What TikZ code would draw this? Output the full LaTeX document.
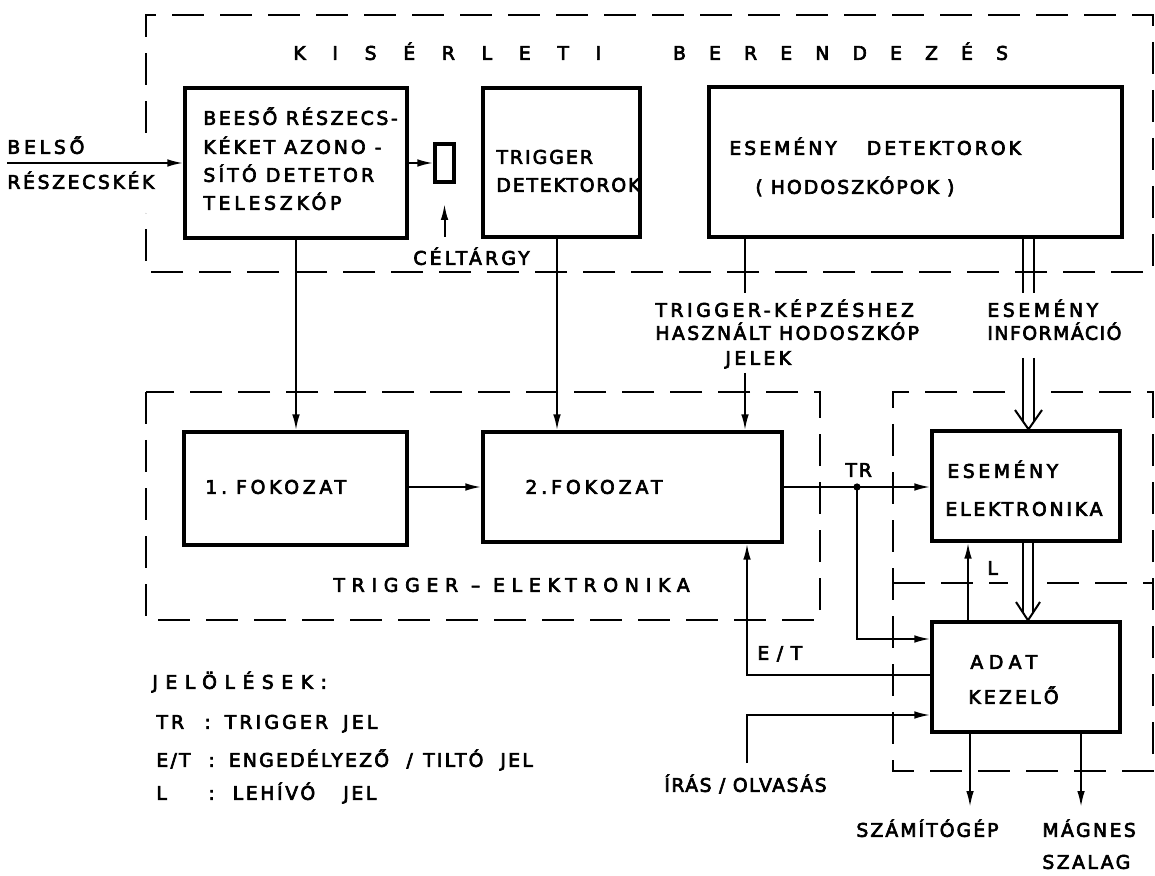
\documentclass[tikz,border=0pt]{standalone}
\usepackage{fontspec}
\usetikzlibrary{arrows.meta}
\newfontfamily\dfont[FakeBold=3.5]{DejaVu Sans}
\begin{document}
\begin{tikzpicture}[x=0.5pt,y=-0.5pt,
 blk/.style n args={2}{draw, line width=1.7pt, inner sep=0pt, minimum width=#1pt, minimum height=#2pt},
 txt/.style={anchor=west, inner sep=0pt, text height=6.8pt, text depth=0pt, font={\dfont\fontsize{9.4}{11}\selectfont\addfontfeatures{LetterSpace=#1}}},
 txt/.default=14,
 con/.style={line width=1pt},
 arr/.style={con, -{Latex[length=8pt,width=3.8pt]}},
 dsh/.style={line width=1.4pt, dash pattern=on 16pt off 8pt},
 dbl/.style={line width=1pt},
]
\path[use as bounding box, fill=white] (0,0) rectangle (1155,876);

% dashed regions
\draw[dsh] (146,133) -- (146,15) -- (1153,15) -- (1153,272) -- (146,272) -- (146,213);
\draw[dsh] (146,392) rectangle (820,620);
\draw[dsh] (1005,392) -- (893,392) -- (893,771) -- (1153,771) -- (1153,392) -- (1050,392);
\draw[dsh] (893,583) -- (1008,583);
\draw[dsh] (1047,583) -- (1153,583);

% blocks
\node[blk={111}{75}] (b1) at (296,163) {};
\node[blk={9.5}{19}] (tgt) at (444.5,163) {};
\node[blk={78.5}{74.5}] (b2) at (561.5,162.5) {};
\node[blk={206.5}{75}] (b3) at (915.5,162) {};
\node[blk={111.5}{56.5}] (f1) at (295.5,488.5) {};
\node[blk={149.5}{55}] (f2) at (632.5,487) {};
\node[blk={94}{55}] (ee) at (1026,486) {};
\node[blk={94}{55}] (ak) at (1026,677) {};

% texts
\node[txt=0] (title) at (293,53) {{\addfontfeatures{LetterSpace=142}KISÉRLETI}\hspace{36pt}{\addfontfeatures{LetterSpace=123}BERENDEZÉS}};
\node[txt=20] (belso) at (7,147) {BELSŐ};
\node[txt=14] (resz) at (7,182) {RÉSZECSKÉK};
\node[txt=14] (b1t1) at (203,118) {BEESŐ RÉSZECS-};
\node[txt=16] (b1t2) at (203,147) {KÉKET AZONO -};
\node[txt=17] (b1t3) at (203,175) {SÍTÓ DETETOR};
\node[txt=20] (b1t4) at (203,203) {TELESZKÓP};
\node[txt=17] (celt) at (413,258) {CÉLTÁRGY};
\node[txt=11] (b2t1) at (496,157) {TRIGGER};
\node[txt=10] (b2t2) at (496,185) {DETEKTOROK};
\node[txt=16] (b3t1) at (729,148) {ESEMÉNY\hspace{15pt}DETEKTOROK};
\node[txt=11] (b3t2) at (755,187) {( HODOSZKÓPOK )};
\node[txt=19] (tk1) at (655,310) {TRIGGER-KÉPZÉSHEZ};
\node[txt=13] (tk2) at (655,333) {HASZNÁLT HODOSZKÓP};
\node[txt=18] (tk3) at (725,358) {JELEK};
\node[txt=19] (ei1) at (987,310) {ESEMÉNY};
\node[txt=8] (ei2) at (987,333) {INFORMÁCIÓ};
\node[txt=20] (f1t) at (205,487) {1.\hspace{4.5pt}FOKOZAT};
\node[txt=21] (f2t) at (525,487) {2.FOKOZAT};
\node[txt=36] (tel) at (333,585) {TRIGGER – ELEKTRONIKA};
\node[txt=10] (trl) at (845,470) {TR};
\node[txt=19] (eet1) at (947,471) {ESEMÉNY};
\node[txt=15] (eet2) at (945,509) {ELEKTRONIKA};
\node[txt=0] (ll) at (987,568) {L};
\node[txt=40] (etl) at (757,653) {E/T};
\node[txt=30] (akt1) at (970,662) {ADAT};
\node[txt=17] (akt2) at (968,697) {KEZELŐ};
\node[txt=8] (irl) at (664,785) {ÍRÁS / OLVASÁS};
\node[txt=11] (szl) at (856,830) {SZÁMÍTÓGÉP};
\node[txt=13] (mgl1) at (1042,830) {MÁGNES};
\node[txt=13] (mgl2) at (1042,862) {SZALAG};
\node[txt=40] (lg0) at (152,682) {JELÖLÉSEK:};
\node[txt=17] (lg1) at (156,722) {\makebox[24pt][l]{TR}:\hspace{7pt}TRIGGER\hspace{7.5pt}JEL};
\node[txt=12] (lg2) at (156,760) {\makebox[26pt][l]{E/T}:\hspace{7pt}ENGEDÉLYEZŐ\hspace{8.7pt}/\hspace{5.2pt}TILTÓ\hspace{8.5pt}JEL};
\node[txt=14] (lg3) at (156,793) {\makebox[26pt][l]{L}:\hspace{9pt}LEHÍVÓ\hspace{14pt}JEL};

% free ends
\coordinate (cA) at (444.5,237);
\coordinate (cB) at (444.5,204);
\coordinate (t1) at (745,293);
\coordinate (t2) at (745,373);
\coordinate (j) at (857,487);
\coordinate (iro) at (747,763);
\coordinate (o1) at (970,807);
\coordinate (o2) at (1081,807);

% connectors
\draw[arr] (belso.west |- b1.west) -- (b1.west);
\draw[arr] (b1.east) -- (tgt.west);
\draw[arr] (cA) -- (cB);
\draw[arr] (b1.south) -- (b1.south |- f1.north);
\draw[arr] (b2.south -| 557,0) -- (f2.north -| 557,0);
\draw[con] (b3.south -| t1) -- (t1);
\draw[arr] (t2) -- (f2.north -| t2);
\draw[arr] (f1.east |- f2.east) -- (f2.west);
\draw[arr] (f2.east) -- (f2.east -| ee.west);
\fill (j) circle (1.8pt);
\draw[arr] (j) |- (ak.west |- 0,639);
\draw[arr] (ak.north -| 968,0) -- (ee.south -| 968,0);
\draw[arr] (ak.west |- 0,675) -| (f2.south -| 747,0);
\draw[arr] (iro) |- (ak.west |- 0,715);
\draw[arr] (ak.south -| o1) -- (o1);
\draw[arr] (ak.south -| o2) -- (o2);

% double (bus) arrows
\draw[dbl] (b3.south -| 1023,0) -- (1023,293);
\draw[dbl] (b3.south -| 1034,0) -- (1034,293);
\draw[dbl] (1023,358) -- (1023,421);
\draw[dbl] (1034,358) -- (1034,421);
\draw[dbl] (1015,410) -- (ee.north -| 1028.5,0) -- (1042,410);
\draw[dbl] (ee.south -| 1023,0) -- (1023,612);
\draw[dbl] (ee.south -| 1033,0) -- (1033,612);
\draw[dbl] (1016,602) -- (ak.north -| 1028,0) -- (1040,602);
\end{tikzpicture}
\end{document}
